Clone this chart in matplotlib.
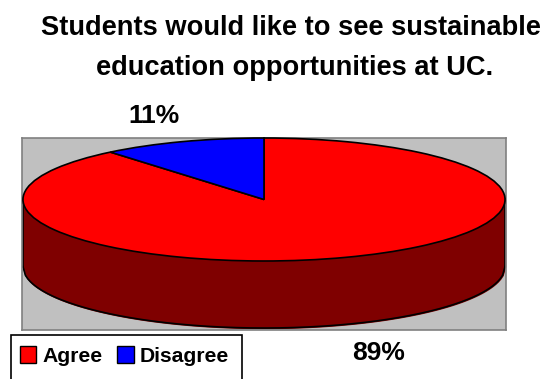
import matplotlib
matplotlib.use("Agg")
import matplotlib.pyplot as plt
import numpy as np
from matplotlib.patches import Patch, Rectangle

categories = ["Agree", "Disagree"]
shares = [89, 11]
share_labels = ["89%", "11%"]
colors = ["#ff0000", "#0000ff"]
side_color = "#7f0000"
wall_color = "#c0c0c0"
title_lines = ["Students would like to see sustainable", "education opportunities at UC."]

W, H = 560, 379
plt.rcParams["font.family"] = ["Liberation Sans", "DejaVu Sans"]
plt.rcParams["font.weight"] = "bold"

fig = plt.figure(figsize=(W / 100, H / 100), dpi=100)

# plot area in pixels: left, top, right, bottom
left, top, right, bottom = 22, 138, 506, 330
ax = fig.add_axes([left / W, 1 - bottom / H, (right - left) / W, (bottom - top) / H])
ax.set_facecolor(wall_color)

depth = 1.09

# side of the disc first, so the top face sits over it
t = np.linspace(-1, 1, 200)
ax.fill_between(t, -np.sqrt(1 - t**2) - depth, 0, color=side_color, zorder=1)
ax.plot(t, -np.sqrt(1 - t**2) - depth, color="black", lw=1.2, zorder=2)
ax.plot([-1, -1], [0, -depth], color="black", lw=1.2, zorder=2)
ax.plot([1, 1], [0, -depth], color="black", lw=1.2, zorder=2)

wedges, _ = ax.pie(shares, colors=colors, startangle=90, counterclock=False,
                   wedgeprops={"edgecolor": "black", "linewidth": 1.2, "zorder": 3})
ax.set_aspect("auto")
ax.set_xlim(-1.004, 1.004)
ax.set_ylim(-2.122, 1.0)
ax.set_frame_on(True)
for s in ax.spines.values():
    s.set_color("#808080")
    s.set_linewidth(1.2)
    s.set_visible(True)
ax.set_xticks([])
ax.set_yticks([])

# title, one text per line because the lines are centred separately
fig.text(291 / W, 1 - 35 / H, title_lines[0], ha="center", va="baseline", fontsize=19.6)
fig.text(294.5 / W, 1 - 75 / H, title_lines[1], ha="center", va="baseline", fontsize=19.6)

# percent labels
fig.text(378.5 / W, 1 - 360 / H, share_labels[0], ha="center", va="baseline", fontsize=19)
fig.text(154 / W, 1 - 123 / H, share_labels[1], ha="center", va="baseline", fontsize=19)

# legend box runs off the bottom edge of the figure
fig.add_artist(Rectangle((11 / W, 1 - 395 / H), 231 / W, 60 / H, transform=fig.transFigure,
                         facecolor="white", edgecolor="black", lw=1.2))
handles = [Patch(facecolor=c, edgecolor="black", label=n) for c, n in zip(colors, categories)]
fig.legend(handles=handles, loc="center left", bbox_to_anchor=(19.5 / W, 1 - 356 / H),
           ncol=2, frameon=False, fontsize=15.2, handlelength=0.8, handleheight=0.85,
           handletextpad=0.28, columnspacing=0.7, borderpad=0, borderaxespad=0)

fig.savefig("out.png", dpi=100)
